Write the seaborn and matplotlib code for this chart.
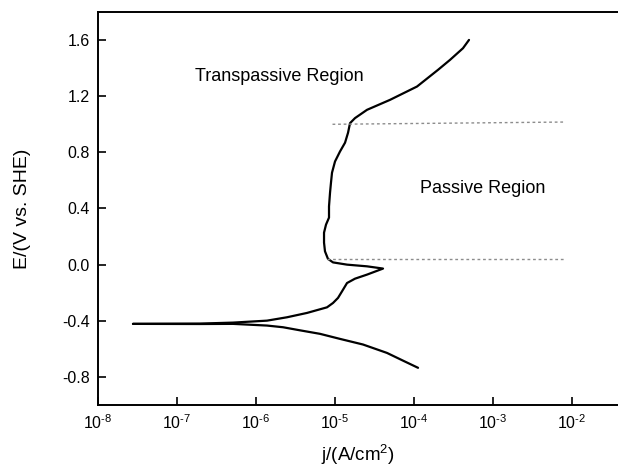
import numpy as np
import pandas as pd
import matplotlib
matplotlib.use("Agg")
import matplotlib.pyplot as plt
import seaborn as sns

# Anodic branch (log10 j in A/cm2, E in V vs. SHE)
anodic_logj = [-7.557, -6.709, -6.291, -5.861, -5.608, -5.354, -5.101, -5.025, -4.962,
               -4.911, -4.848, -4.747, -4.595, -4.392, -4.595, -4.848, -5.025, -5.089,
               -5.127, -5.139, -5.139, -5.114, -5.076, -5.076, -5.063, -5.051, -5.038,
               -5.000, -4.937, -4.873, -4.835, -4.810, -4.747, -4.595, -4.304, -3.962,
               -3.696, -3.544, -3.380, -3.304]
anodic_E = [-0.422, -0.420, -0.413, -0.399, -0.375, -0.344, -0.304, -0.273, -0.237,
            -0.190, -0.131, -0.100, -0.071, -0.028, -0.012, 0.000, 0.016, 0.041,
            0.095, 0.157, 0.228, 0.285, 0.335, 0.415, 0.513, 0.584, 0.655,
            0.735, 0.806, 0.869, 0.940, 1.008, 1.044, 1.103, 1.174, 1.269,
            1.388, 1.459, 1.542, 1.601]
# Cathodic branch
cathodic_logj = [-7.557, -6.709, -6.291, -5.861, -5.658, -5.443, -5.190, -4.937, -4.646,
                 -4.342, -4.139, -3.949]
cathodic_E = [-0.422, -0.423, -0.422, -0.434, -0.446, -0.468, -0.493, -0.529, -0.569,
              -0.629, -0.684, -0.735]

# Region boundaries (dashed)
upper_j = [9.3e-6, 8.1e-3]
upper_E = [1.0, 1.016]
lower_j = [7.9e-6, 8.1e-3]
lower_E = [0.04, 0.04]

xtick_exps = [-8, -7, -6, -5, -4, -3, -2]
ytick_vals = [-0.8, -0.4, 0.0, 0.4, 0.8, 1.2, 1.6]

sns.set_style("ticks")
plt.rcParams['font.family'] = ['Liberation Sans', 'DejaVu Sans']
plt.rcParams['mathtext.fontset'] = 'custom'
plt.rcParams['mathtext.rm'] = 'Liberation Sans'
plt.rcParams['mathtext.it'] = 'Liberation Sans:italic'
plt.rcParams['mathtext.default'] = 'regular'
plt.rcParams['text.color'] = 'black'
plt.rcParams['axes.labelcolor'] = 'black'

fig = plt.figure(figsize=(6.18, 4.71), dpi=100)
ax = fig.add_axes([98/618, 66/471, 1 - 98/618, 393/471])

an = pd.DataFrame({"j": np.power(10.0, anodic_logj), "E": anodic_E})
ca = pd.DataFrame({"j": np.power(10.0, cathodic_logj), "E": cathodic_E})

sns.lineplot(data=an, x="j", y="E", sort=False, estimator=None, color="black", lw=1.6, ax=ax)
sns.lineplot(data=ca, x="j", y="E", sort=False, estimator=None, color="black", lw=1.6, ax=ax)
ax.plot(upper_j, upper_E, color="#8c8c8c", lw=1.0, ls=(0, (2, 2)))
ax.plot(lower_j, lower_E, color="#8c8c8c", lw=1.0, ls=(0, (2, 2)))

ax.set_xscale("log")
ax.set_xlim(1e-8, 10 ** -1.418)
ax.set_ylim(-1.0, 1.8)
ax.set_xticks([10.0 ** e for e in xtick_exps])
ax.set_xticklabels([r"$10^{\text{-}%d}$" % abs(e) for e in xtick_exps])
ax.xaxis.set_minor_locator(matplotlib.ticker.NullLocator())
ax.set_yticks(ytick_vals)
ax.set_yticklabels(["%.1f" % v for v in ytick_vals])

ax.tick_params(direction="in", length=6, width=1.2, labelsize=11.5, colors="black", pad=6)
for s in ["left", "bottom", "top"]:
    ax.spines[s].set_linewidth(1.4)
    ax.spines[s].set_color("black")
ax.spines["right"].set_visible(False)

ax.set_xlabel(r"j/(A/cm$^2$)", fontsize=13.5, labelpad=8)
ax.set_ylabel("E/(V vs. SHE)", fontsize=14, labelpad=22)

ax.text(10 ** -6.77, 1.34, "Transpassive Region", fontsize=13, va="center", ha="left")
ax.text(10 ** -3.92, 0.54, "Passive Region", fontsize=13, va="center", ha="left")

fig.savefig("out.png", dpi=100, facecolor="white")
